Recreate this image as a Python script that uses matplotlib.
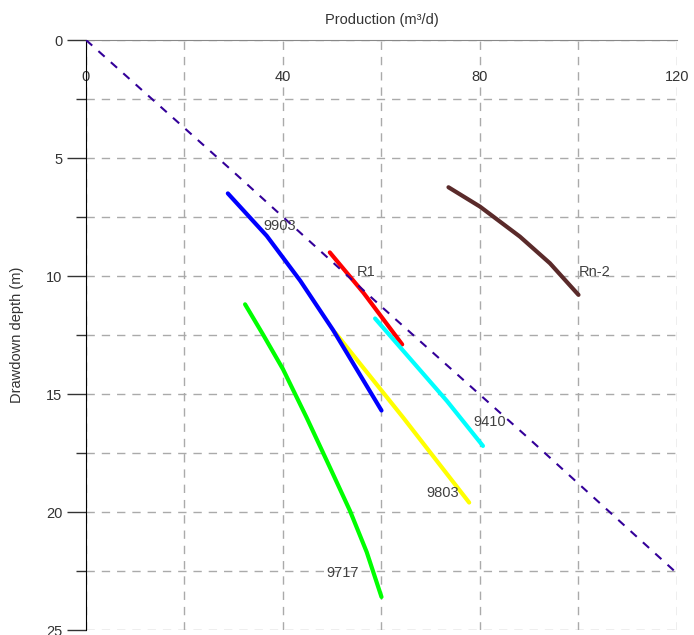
import matplotlib.pyplot as plt
import numpy as np
from matplotlib.ticker import MultipleLocator

plt.rcParams['font.family'] = ['Liberation Sans', 'DejaVu Sans']

# reference line (dashed)
ref_x = [0, 30, 60, 90, 120]
ref_y = [0, 5.6, 11.3, 16.9, 22.6]

# well curves: production (m3/d) vs drawdown depth (m)
w9903_x = [28.8, 36.7, 43.5, 50.2, 60.0]
w9903_y = [6.5, 8.3, 10.2, 12.3, 15.7]

r1_x = [49.5, 56.3, 64.2]
r1_y = [9.0, 10.7, 12.9]

w9410_x = [58.7, 73.3, 80.6]
w9410_y = [11.8, 15.3, 17.2]

w9803_x = [50.6, 64.4, 77.8]
w9803_y = [12.4, 16.0, 19.6]

w9717_x = [32.3, 36.0, 40.0, 44.8, 49.5, 53.6, 57.0, 60.0]
w9717_y = [11.2, 12.5, 13.95, 16.0, 18.1, 19.95, 21.7, 23.6]

rn2_x = [73.6, 80.0, 88.1, 94.2, 100.0]
rn2_y = [6.24, 7.06, 8.33, 9.46, 10.8]

labels = ['9903', 'R1', '9410', '9803', '9717', 'Rn-2']
label_x = [39.4, 56.8, 82.0, 72.5, 52.2, 103.3]
label_y = [7.88, 9.82, 16.2, 19.2, 22.6, 9.83]

fig = plt.figure(figsize=(6.94, 6.35), dpi=100)
ax = fig.add_axes([86/694, 1-630/635, (677-86)/694, (630-40)/635])

kw = dict(lw=3, solid_capstyle='round', solid_joinstyle='round')
ax.plot(w9903_x, w9903_y, color='#0000ff', zorder=3, **kw)
ax.plot(w9803_x, w9803_y, color='#ffff00', zorder=2, **kw)
ax.plot(r1_x, r1_y, color='#ff0000', zorder=3, **kw)
ax.plot(w9410_x, w9410_y, color='#00ffff', zorder=3, **kw)
ax.plot(w9717_x, w9717_y, color='#00ff00', zorder=3, **kw)
ax.plot(rn2_x, rn2_y, color='#5a2a2a', zorder=3, **kw)
ax.plot(ref_x, ref_y, color='#330099', lw=1.5, dashes=(4, 4), zorder=4)

for t, x, y in zip(labels, label_x, label_y):
    ax.text(x, y, t, ha='center', va='center', fontsize=10.5, color='#404040', zorder=5)

ax.set_xlim(0, 120)
ax.set_ylim(25, 0)

ax.xaxis.set_major_locator(MultipleLocator(40))
ax.xaxis.set_minor_locator(MultipleLocator(20))
ax.yaxis.set_major_locator(MultipleLocator(5))
ax.yaxis.set_minor_locator(MultipleLocator(2.5))

ax.tick_params(axis='x', which='both', top=True, labeltop=True, bottom=False,
               labelbottom=False, direction='in', length=0, pad=-32,
               labelsize=10.5, labelcolor='#333333')
ax.tick_params(axis='y', which='major', length=14, width=1, color='#333333',
               labelsize=10.5, labelcolor='#333333', pad=3)
ax.tick_params(axis='y', which='minor', length=7, width=1, color='#333333')

ax.grid(which='both', color='#aaaaaa', linestyle=(0, (6, 5)), linewidth=1)
ax.set_axisbelow(True)

ax.spines['right'].set_visible(False)
ax.spines['bottom'].set_visible(False)
ax.spines['top'].set_color('#888888')
ax.spines['left'].set_color('#000000')

ax.set_xlabel('Production (m³/d)', fontsize=10.5, color='#333333')
ax.xaxis.set_label_position('top')
ax.xaxis.set_label_coords(0.5, 1.0 + 16/590)
ax.set_ylabel('Drawdown depth (m)', fontsize=10.5, color='#333333')
ax.yaxis.set_label_coords(-62/591, 0.5)

fig.savefig('out.png', dpi=100)
